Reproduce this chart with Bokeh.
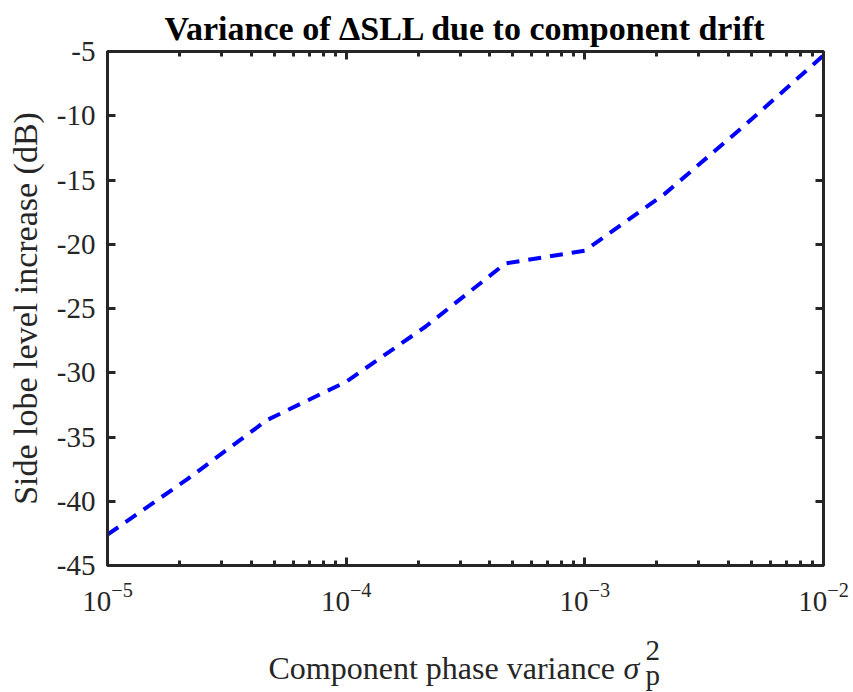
from bokeh.plotting import figure
from bokeh.models import LinearAxis, LogAxis, FixedTicker, Label, Range1d
from bokeh.embed import file_html
from bokeh.resources import INLINE

# ---- data ----
phase_variance = [1e-5, 2.154e-5, 4.642e-5, 1e-4, 2.154e-4, 4.642e-4, 1e-3, 2.154e-3, 4.642e-3, 1e-2]
sll_increase_db = [-42.6, -38.3, -33.7, -30.7, -26.4, -21.5, -20.5, -16.1, -10.8, -5.3]
x_major_ticks = [1e-5, 1e-4, 1e-3, 1e-2]
x_minor_ticks = [2e-5, 3e-5, 4e-5, 5e-5, 6e-5, 7e-5, 8e-5, 9e-5,
                 2e-4, 3e-4, 4e-4, 5e-4, 6e-4, 7e-4, 8e-4, 9e-4,
                 2e-3, 3e-3, 4e-3, 5e-3, 6e-3, 7e-3, 8e-3, 9e-3]
y_ticks = [-45, -40, -35, -30, -25, -20, -15, -10, -5]
y_tick_labels = ["-45", "-40", "-35", "-30", "-25", "-20", "-15", "-10", "-5"]
title_text = "Variance of \u0394SLL due to component drift"
x_label_text = "Component phase variance "
y_label_text = "Side lobe level increase (dB)"

# ---- style / layout ----
AX = "#262626"
FONT = "Liberation Serif"
W, H = 853, 692
FL, FR, FT, FB = 107, 823, 51, 565
XMIN, XMAX, YMIN, YMAX = 1e-5, 1e-2, -45, -5


def px_x(px):
    import math
    lo, hi = math.log10(XMIN), math.log10(XMAX)
    return 10 ** (lo + (hi - lo) * (px - FL) / (FR - FL))


def px_y(py):
    return YMAX - (YMAX - YMIN) * (py - FT) / (FB - FT)


p = figure(width=W, height=H, x_axis_type="log",
           x_range=Range1d(XMIN, XMAX), y_range=Range1d(YMIN, YMAX),
           output_backend="svg", toolbar_location=None,
           min_border_left=FL, min_border_right=W - FR,
           min_border_top=FT, min_border_bottom=H - FB,
           title=title_text)
p.background_fill_color = "white"
p.border_fill_color = "white"
p.xgrid.grid_line_color = None
p.ygrid.grid_line_color = None
p.outline_line_color = AX
p.outline_line_width = 3

p.title.text_font = FONT
p.title.text_font_style = "bold"
p.title.text_font_size = "34px"
p.title.text_color = "black"
p.title.align = "center"


def style_axis(ax, labels=True):
    ax.axis_line_color = AX
    ax.axis_line_width = 3
    ax.major_tick_line_color = AX
    ax.major_tick_line_width = 3
    ax.major_tick_in = 8
    ax.major_tick_out = 0
    ax.minor_tick_line_color = AX
    ax.minor_tick_line_width = 3
    ax.minor_tick_in = 5
    ax.minor_tick_out = 0
    ax.major_label_text_font = FONT
    if labels:
        ax.major_label_text_font_size = "29px"
        ax.major_label_text_color = AX
    else:
        ax.major_label_text_font_size = "2px"
        ax.major_label_text_color = None
        ax.major_label_standoff = 1


bx = p.xaxis[0]
bx.ticker = FixedTicker(ticks=x_major_ticks, minor_ticks=x_minor_ticks)
style_axis(bx)
bx.major_label_standoff = 17

ly = p.yaxis[0]
ly.ticker = FixedTicker(ticks=y_ticks, minor_ticks=[])
style_axis(ly)
ly.minor_tick_line_color = None
ly.major_label_standoff = 12
ly.major_label_overrides = {t: s for t, s in zip(y_ticks, y_tick_labels)}
ly.axis_label = y_label_text
ly.axis_label_text_font = FONT
ly.axis_label_text_font_size = "34px"
ly.axis_label_text_font_style = "normal"
ly.axis_label_text_color = AX
ly.axis_label_standoff = 10

tx = LogAxis(ticker=FixedTicker(ticks=x_major_ticks, minor_ticks=x_minor_ticks))
style_axis(tx, labels=False)
p.add_layout(tx, "above")

ry = LinearAxis(ticker=FixedTicker(ticks=y_ticks, minor_ticks=[]))
style_axis(ry, labels=False)
ry.minor_tick_line_color = None
p.add_layout(ry, "right")

p.line(phase_variance, sll_increase_db, line_color="#0000ff", line_width=4,
       line_dash="13 9", line_cap="butt")

# x-axis label: "Component phase variance σ_p^2"
# (labels live in side panels so that they are not clipped to the plot frame)
lab_common = dict(text_font=FONT, text_color=AX, text_baseline="alphabetic",
                  text_align="left")
p.add_layout(Label(x=px_x(268), y=px_y(667), text=x_label_text,
                   text_font_size="32px", **lab_common), "below")
p.add_layout(Label(x=px_x(623), y=px_y(667), text="\u03c3",
                   text_font_size="32px", text_font_style="italic", **lab_common), "below")
p.add_layout(Label(x=px_x(645), y=px_y(662), text="2\np",
                   text_font_size="29px", text_line_height=0.8, **lab_common), "right")

open("out.html", "w").write(file_html(p, INLINE))
